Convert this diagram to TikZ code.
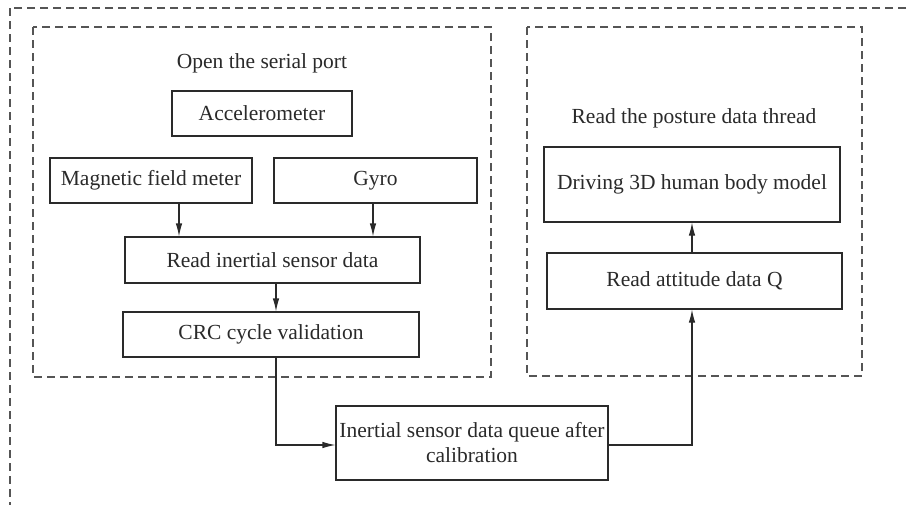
\documentclass[tikz,border=0pt]{standalone}
\usepackage{fontspec}
\setmainfont{Liberation Serif}
\usetikzlibrary{arrows.meta,calc}
\definecolor{ln}{HTML}{2A2A2A}
\definecolor{dl}{HTML}{555555}
\begin{document}
\begin{tikzpicture}[x=1pt,y=-1pt,
  box/.style={draw=ln,line width=1.1pt,minimum width=#1,inner sep=0pt,align=center,text=ln,font=\fontsize{21.5}{25}\selectfont},
  grp/.style={draw=dl,line width=1.1pt,dash pattern=on 8pt off 5pt},
  lbl/.style={text=ln,font=\fontsize{21.5}{25}\selectfont,inner sep=0pt},
  arr/.style={draw=ln,line width=1.1pt,-{Latex[length=13pt,width=6.5pt]}}]
\useasboundingbox (0,0) rectangle (907,504);
\clip (0,0) rectangle (907,504);
\fill[white] (0,0) rectangle (907,504);
% outer dashed frame
\draw[grp] (10,8) rectangle (940,540);
% groups
\draw[grp] (33,27) rectangle (491,377);
\draw[grp] (527,27) rectangle (862,376);
\node[lbl] (t1) at (262,63) {Open the serial port};
\node[lbl] (t2) at (694,118) {Read the posture data thread};
% boxes
\node[box=180pt,minimum height=45pt] (acc) at (262,113.5) {Accelerometer};
\node[box=202pt,minimum height=45pt] (mag) at (151,180.5) {Magnetic field meter};
\node[box=203pt,minimum height=45pt] (gyr) at (375.5,180.5) {Gyro};
\node[box=295pt,minimum height=46pt] (rd) at (272.5,260) {Read inertial sensor data};
\node[box=296pt,minimum height=45pt] (crc) at (271,334.5) {CRC cycle validation};
\node[box=272pt,minimum height=74pt] (que) at (472,443) {Inertial sensor data queue after\\calibration};
\node[box=295pt,minimum height=56pt] (att) at (694.5,281) {Read attitude data Q};
\node[box=296pt,minimum height=75pt] (drv) at (692,184.5) {Driving 3D human body model};
% connector columns
\coordinate (c1) at (179,0);
\coordinate (c2) at (373,0);
\coordinate (c3) at (276,0);
\coordinate (c4) at (692,0);
\coordinate (r1) at (0,445);
% connectors
\draw[arr] (mag.south -| c1) -- (rd.north -| c1);
\draw[arr] (gyr.south -| c2) -- (rd.north -| c2);
\draw[arr] (rd.south -| c3) -- (crc.north -| c3);
\draw[arr] (crc.south -| c3) |- (que.west |- r1);
\draw[arr] (que.east |- r1) -| (att.south -| c4);
\draw[arr] (att.north -| c4) -- (drv.south -| c4);
\end{tikzpicture}
\end{document}
